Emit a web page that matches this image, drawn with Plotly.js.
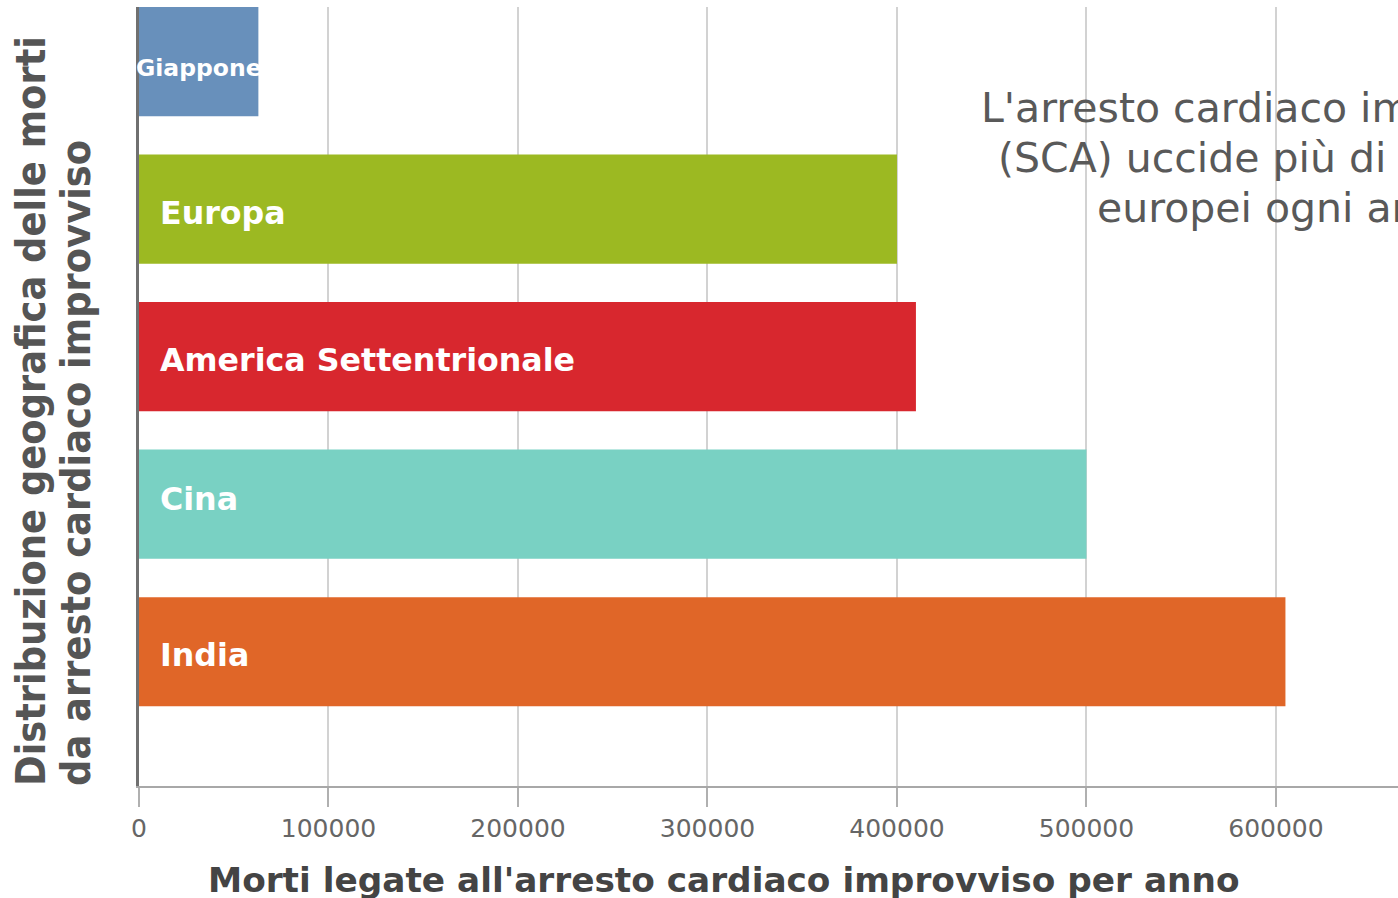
<!DOCTYPE html>
<html>
<head>
<meta charset="utf-8">
<script src="https://cdn.plot.ly/plotly-3.0.1.min.js"></script>
<style>html,body{margin:0;padding:0;background:#fff;}#chart{width:1398px;height:898px;}</style>
</head>
<body>
<div id="chart"></div>
<script>
// Data
const regions = ["Giappone", "Europa", "America Settentrionale", "Cina", "India"];
const deaths = [63000, 400000, 410000, 500000, 605000];
const barColors = ["#6890bb", "#9cb922", "#d8272e", "#79d1c3", "#e06628"];
const tickValues = [0, 100000, 200000, 300000, 400000, 500000, 600000];
const tickLabels = ["0", "100000", "200000", "300000", "400000", "500000", "600000"];
const xTitle = "Morti legate all'arresto cardiaco improvviso per anno";
const yTitleLines = ["Distribuzione geografica delle morti", "da arresto cardiaco improvviso"];
const noteLines = ["L'arresto cardiaco improvviso", "(SCA) uccide più di 400.000", "europei ogni anno"];

const trace = {
  type: "bar",
  orientation: "h",
  y: regions,
  x: deaths,
  marker: { color: barColors, line: { width: 0 } },
  hoverinfo: "x+y"
};

const annotations = [];
// bar labels
const labelShift = [-6, -4, -3, 5, -3];
regions.forEach((r, i) => {
  if (i === 0) {
    annotations.push({
      x: deaths[i] / 2, y: r, xref: "x", yref: "y",
      text: "<b>" + r + "</b>", showarrow: false,
      xanchor: "center", yanchor: "middle", yshift: labelShift[i],
      font: { family: "DejaVu Sans", size: 23.5, color: "#ffffff" }
    });
  } else {
    annotations.push({
      x: 0, y: r, xref: "x", yref: "y",
      text: "<b>" + r + "</b>", showarrow: false,
      xanchor: "left", yanchor: "middle", xshift: 19, yshift: labelShift[i],
      font: { family: "DejaVu Sans", size: 31.7, color: "#ffffff" }
    });
  }
});
// note (three centred lines)
const noteY = [0.8703, 0.806, 0.7419];
noteLines.forEach((t, i) => {
  annotations.push({
    x: 0.9087, y: noteY[i], xref: "paper", yref: "paper",
    text: t, showarrow: false, align: "center",
    xanchor: "center", yanchor: "middle",
    font: { family: "DejaVu Sans", size: 41, color: "#595959" }
  });
});
// x title
annotations.push({
  x: 0.4647, y: -0.1207, xref: "paper", yref: "paper",
  text: "<b>" + xTitle + "</b>", showarrow: false,
  xanchor: "center", yanchor: "middle",
  font: { family: "DejaVu Sans", size: 34.3, color: "#444444" }
});
// y title lines
const yShifts = [-108, -63];
yTitleLines.forEach((t, i) => {
  annotations.push({
    x: 0, y: 0, xref: "paper", yref: "paper",
    text: "<b>" + t + "</b>", showarrow: false, textangle: -90,
    xanchor: "center", yanchor: "bottom", xshift: yShifts[i], yshift: -2,
    font: { family: "DejaVu Sans Condensed, DejaVu Sans", size: 41, color: "#555555" }
  });
});

const layout = {
  width: 1398, height: 898,
  margin: { l: 139, r: 0, t: 7, b: 112, pad: 0 },
  paper_bgcolor: "#ffffff", plot_bgcolor: "#ffffff",
  showlegend: false,
  bargap: 0.26,
  xaxis: {
    range: [0, 664400],
    tickvals: tickValues, ticktext: tickLabels,
    showgrid: true, gridcolor: "#d2d2d2", gridwidth: 2,
    zeroline: false,
    showline: true, linecolor: "#a8a8a8", linewidth: 2,
    ticks: "outside", ticklen: 19, tickwidth: 2, tickcolor: "#b0b0b0",
    tickfont: { family: "DejaVu Sans", size: 25, color: "#666666" },
    fixedrange: true
  },
  yaxis: {
    type: "category",
    categoryorder: "array", categoryarray: regions,
    range: [4.91, -0.37],
    showticklabels: false, ticks: "",
    showgrid: false, zeroline: false,
    showline: true, linecolor: "#707070", linewidth: 3,
    fixedrange: true
  },
  annotations: annotations
};

Plotly.newPlot("chart", [trace], layout, { displayModeBar: false, staticPlot: true });
</script>
</body>
</html>
